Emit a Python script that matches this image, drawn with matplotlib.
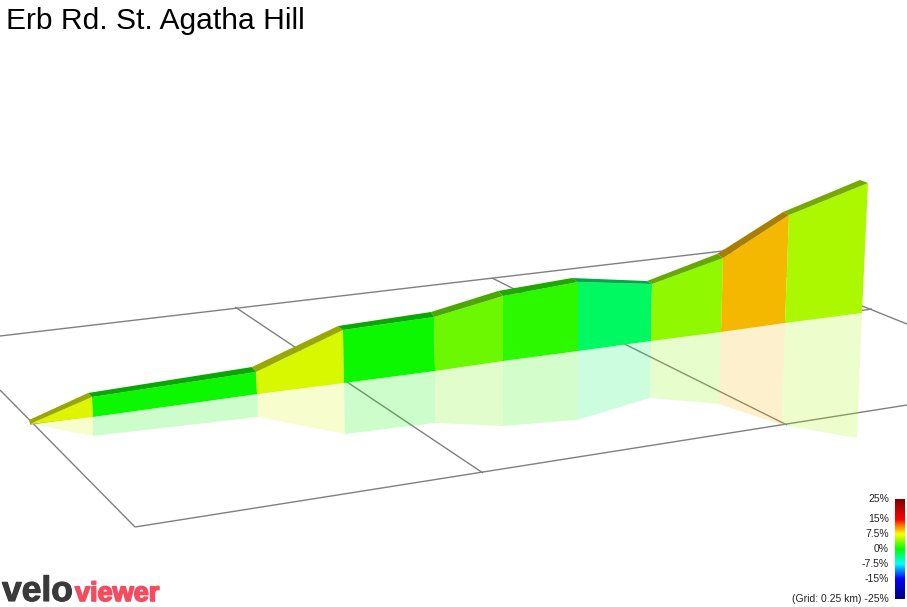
import matplotlib
matplotlib.use("Agg")
import matplotlib.pyplot as plt
import matplotlib.patheffects as pe
import numpy as np
from matplotlib.colors import LinearSegmentedColormap
from matplotlib.patches import Polygon

title = "Erb Rd. St. Agatha Hill"

# Projected profile (screen pixels)
top_x  = [30, 92, 256, 343, 434, 503, 578, 652, 723, 789, 868]
top_y  = [424, 397, 372, 330, 317, 296, 282, 284, 258, 215, 183]
back_x = [29, 88, 252, 338, 431, 498, 572, 647, 717, 783, 860]
back_y = [420, 393, 367, 326, 312, 291, 278, 281, 254, 212, 180]
base_x = [31, 93, 257, 344, 435, 503, 578, 651, 721, 785, 862]
base_y = [424, 417, 394, 383, 371, 361, 351, 341, 332, 323, 313]
refl_x = [32, 93, 258, 345, 435, 503, 577, 650, 719, 782, 857]
refl_y = [424, 436, 417, 434, 423, 426, 420, 398, 404, 425, 438]

section_colors = ["#DDF500", "#0CF800", "#D8F800", "#0CF800", "#6CF800",
                  "#2CF800", "#00F860", "#90F800", "#F5B800", "#ACF800"]
top_colors = ["#99A800", "#08A800", "#99A800", "#08A800", "#4CA800",
              "#1EA800", "#00A848", "#64A800", "#A87E00", "#76A800"]

# Ground grid segments: (x0, y0, x1, y1)
grid_x0 = [0, 135, 0, 235, 492, 723, 30]
grid_y0 = [336, 527, 390, 307, 278, 250, 424]
grid_x1 = [723, 907, 135, 483, 787, 907, 872]
grid_y1 = [251, 405, 527, 473, 425, 324, 309]

legend_labels = ["25%", "15%", "7.5%", "0%", "-7.5%", "-15%", "(Grid: 0.25 km) -25%"]
legend_y = [499, 519, 534, 549, 564, 579, 599]
legend_stops = [(0.0, "#000080"), (0.2, "#0000FF"), (0.35, "#00FFFF"), (0.5, "#00FF00"),
                (0.65, "#FFFF00"), (0.72, "#FF9000"), (0.8, "#FF0000"), (1.0, "#800000")]

plt.rcParams["font.family"] = ["Liberation Sans", "DejaVu Sans"]
fig = plt.figure(figsize=(9.07, 6.07), dpi=100)
ax = fig.add_axes([0, 0, 1, 1])
ax.set_xlim(0, 907)
ax.set_ylim(607, 0)
ax.axis("off")

for x0, y0, x1, y1 in zip(grid_x0, grid_y0, grid_x1, grid_y1):
    ax.plot([x0, x1], [y0, y1], color="#808080", lw=1.0, zorder=1, solid_capstyle="butt")

for i in range(len(section_colors)):
    ax.add_patch(Polygon([(base_x[i], base_y[i]), (base_x[i+1], base_y[i+1]),
                          (refl_x[i+1], refl_y[i+1]), (refl_x[i], refl_y[i])],
                         closed=True, fc=section_colors[i], ec="none", alpha=0.2, zorder=2))
    ax.add_patch(Polygon([(top_x[i], top_y[i]), (top_x[i+1], top_y[i+1]),
                          (base_x[i+1], base_y[i+1]), (base_x[i], base_y[i])],
                         closed=True, fc=section_colors[i], ec="none", zorder=3))
    ax.add_patch(Polygon([(back_x[i], back_y[i]), (back_x[i+1], back_y[i+1]),
                          (top_x[i+1], top_y[i+1]), (top_x[i], top_y[i])],
                         closed=True, fc=top_colors[i], ec="none", zorder=4))

ax.text(6, 29, title, fontsize=21.6, color="black", ha="left", va="baseline")

cmap = LinearSegmentedColormap.from_list("grade", legend_stops)
ax.imshow(np.linspace(1, 0, 200).reshape(-1, 1), cmap=cmap, aspect="auto",
          extent=(895, 905, 599.5, 500), zorder=5)
ax.set_xlim(0, 907)
ax.set_ylim(607, 0)
for lab, y in zip(legend_labels, legend_y):
    ax.text(889, y, lab, fontsize=7.45, color="#222222", ha="right", va="center")

ax.text(2, 601, "velo", fontsize=25.5, fontweight="bold", color="#3A3A3A", ha="left", va="baseline",
        path_effects=[pe.withStroke(linewidth=0.8, foreground="#3A3A3A")])
ax.text(75, 601, "viewer", fontsize=19.5, fontweight="bold",
        color="#F54B5E", ha="left", va="baseline",
        path_effects=[pe.withStroke(linewidth=1.2, foreground="#F54B5E")])

fig.savefig("out.png", dpi=100)
